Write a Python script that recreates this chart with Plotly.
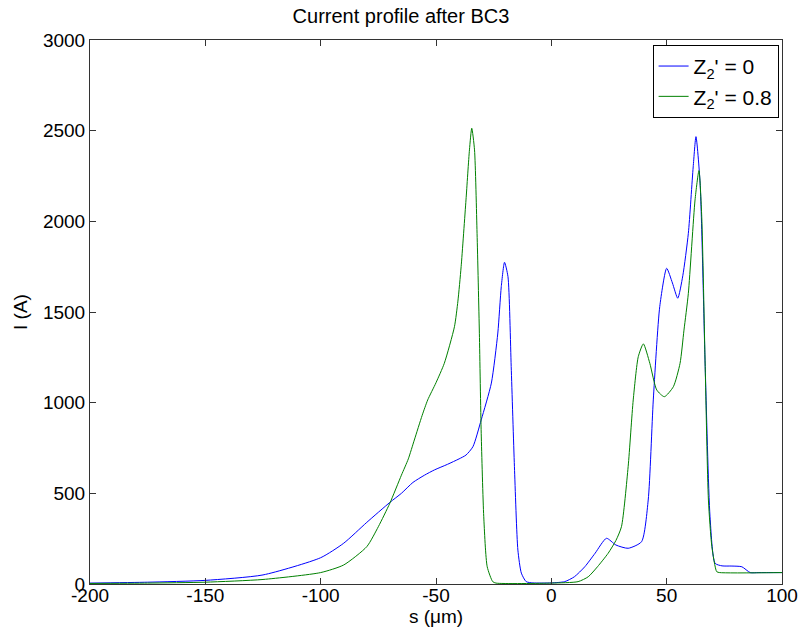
import plotly.graph_objects as go

s_blue = [-200, -175, -150, -125, -100, -90, -80, -70, -65, -60, -55, -50.7, -45, -40, -37, -34, -30.4, -26,
          -23.2, -21.7, -20.3, -18.8, -17.4, -16, -14.5, -13, -10.9, -8, 0, 5.8, 10, 14.5, 19, 23.9, 28,
          33.3, 39.1, 42, 44.2, 47, 50, 52.5, 54.8, 57, 59.4, 61.5, 62.7, 64.5, 66.7, 68.8, 71, 74,
          78.3, 82.6, 86.2, 90, 100]
i_blue = [5, 10, 20, 50, 145, 225, 340, 450, 500, 560, 600, 629, 660, 690, 711, 757, 905, 1108,
          1384, 1640, 1774, 1695, 1199, 647, 187, 60, 13, 6, 6, 13, 40, 95, 170, 252, 215,
          197, 233, 463, 1015, 1530, 1741, 1660, 1576, 1700, 1934, 2300, 2467, 2210, 1199, 371, 114, 100,
          99, 95, 63, 63, 63]

s_green = [-200, -175, -150, -125, -100, -90, -80, -75, -70, -65, -62, -59.4, -56, -53.6, -50, -46.4, -42,
           -40.5, -39.1, -37, -35.5, -34.5, -33.3, -32.2, -31.2, -30.4, -29.3, -27.8, -25.4, -24, 0, 11.6,
           16, 20, 24.6, 28, 30.4, 33.3, 35.5, 37.7, 39.9, 42.7, 45.7, 49, 52.9, 55.8, 57.5, 59.4,
           62.3, 64, 65.2, 66.7, 68.1, 69.6, 71.7, 73, 100]
i_green = [3, 5, 10, 25, 63, 105, 206, 316, 446, 600, 690, 794, 930, 1015, 1110, 1217, 1419,
           1560, 1750, 2118, 2394, 2513, 2394, 1934, 1383, 831, 371, 95, 13, 5, 5, 13,
           40, 95, 169, 240, 316, 647, 1015, 1254, 1324, 1217, 1070, 1033, 1088, 1217, 1400, 1603,
           2118, 2280, 2026, 1199, 463, 206, 68, 63, 63]

x_ticks = [-200, -150, -100, -50, 0, 50, 100]
y_ticks = [0, 500, 1000, 1500, 2000, 2500, 3000]

FAM = "Liberation Sans, Arial, sans-serif"
font = dict(family=FAM, size=19, color="black")

fig = go.Figure()
fig.add_trace(go.Scatter(x=s_blue, y=i_blue, mode="lines",
                         line=dict(color="#0000ff", width=1, shape="spline", smoothing=0.6),
                         name="Z<sub>2</sub>' = 0"))
fig.add_trace(go.Scatter(x=s_green, y=i_green, mode="lines",
                         line=dict(color="#008000", width=1, shape="spline", smoothing=0.6),
                         name="Z<sub>2</sub>' = 0.8"))

axis_common = dict(showgrid=False, zeroline=False, showline=True, linecolor="#333333", linewidth=1,
                   mirror="ticks", ticks="inside", ticklen=6, tickcolor="#333333", tickfont=font,
                   automargin=False)

fig.update_layout(
    width=802, height=639,
    margin=dict(l=90, r=20, t=40, b=55),
    paper_bgcolor="white", plot_bgcolor="white",
    font=font,
    title=dict(text="Current profile after BC3", x=0.5, xanchor="center", y=0.975, yanchor="middle",
               font=dict(family=FAM, size=20, color="black")),
    xaxis=dict(range=[-200, 100], tickvals=x_ticks, ticktext=[str(v) for v in x_ticks],
               ticklabelstandoff=-6,
               title=dict(text="s (μm)", font=font, standoff=0), **axis_common),
    yaxis=dict(range=[0, 3000], tickvals=y_ticks, ticktext=[str(v) for v in y_ticks],
               title=dict(text="I (A)", font=font, standoff=10), **axis_common),
    legend=dict(x=0.813, y=0.991, xanchor="left", yanchor="top", bgcolor="white",
                bordercolor="black", borderwidth=1, itemwidth=30,
                font=dict(family=FAM, size=21, color="black"), tracegroupgap=0),
    showlegend=True,
)

fig.write_html("out.html")
